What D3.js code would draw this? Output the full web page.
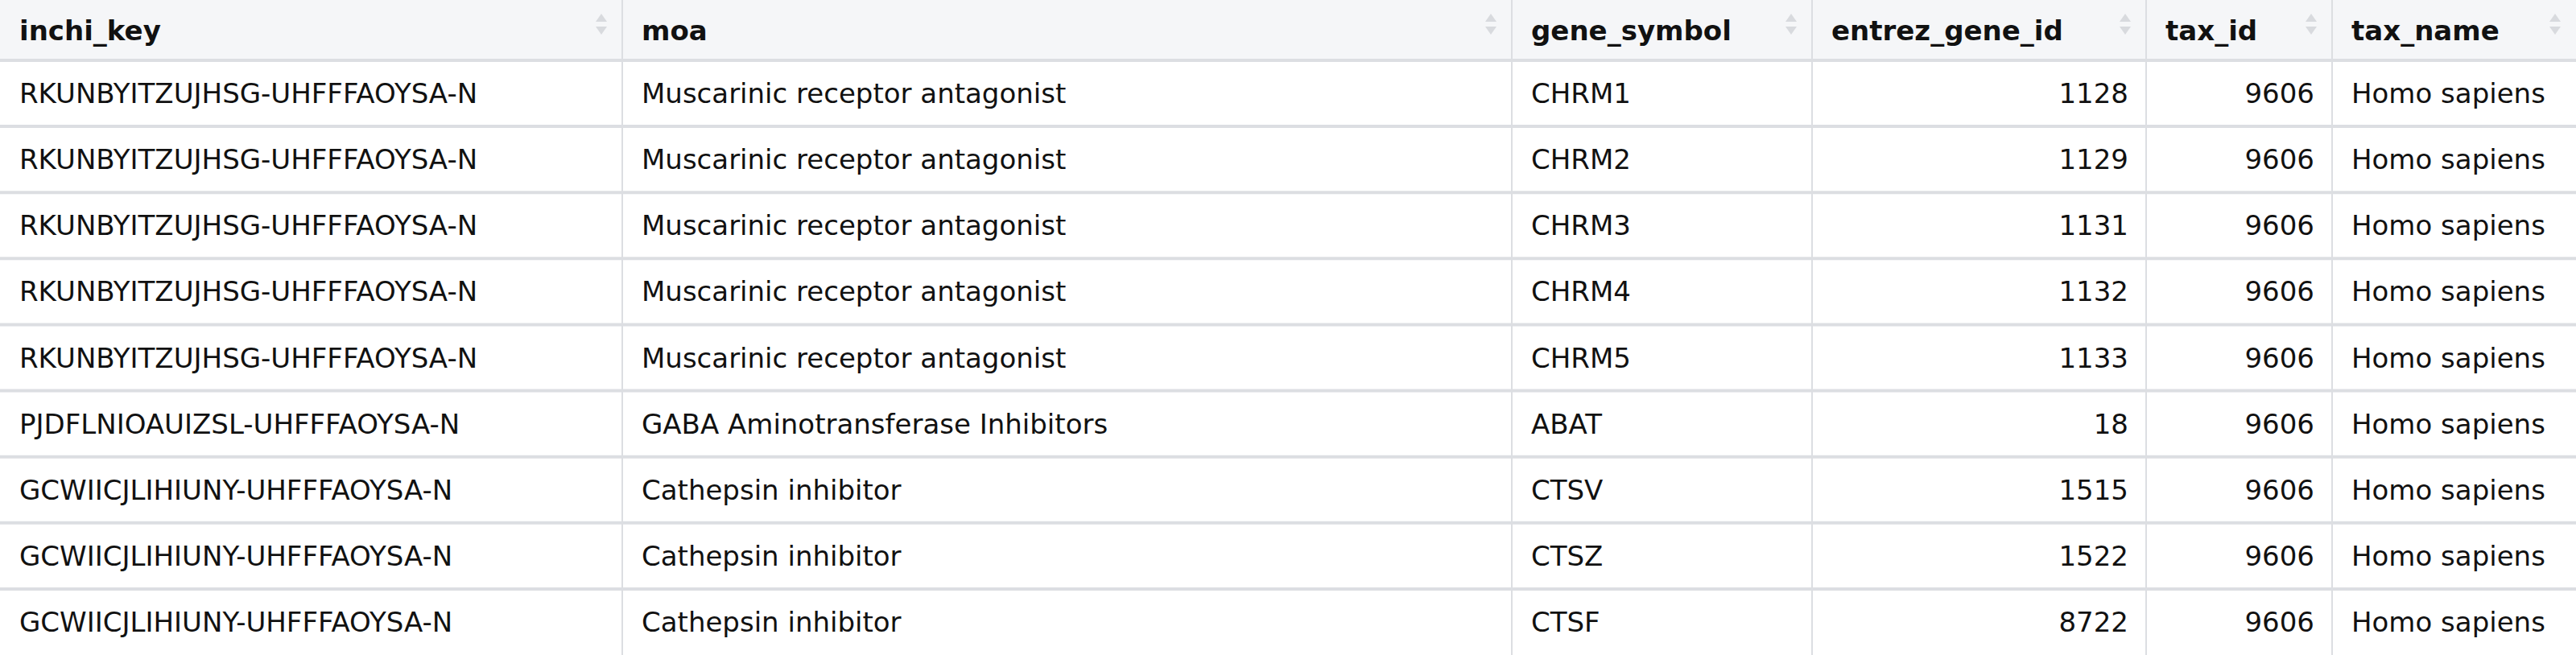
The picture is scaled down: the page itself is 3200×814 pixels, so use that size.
<!DOCTYPE html>
<html><head><meta charset="utf-8">
<script src="https://cdn.jsdelivr.net/npm/d3@7"></script>
<style>body{margin:0;background:#fff}</style>
</head><body>
<script>
var columns = ['inchi_key', 'moa', 'gene_symbol', 'entrez_gene_id', 'tax_id', 'tax_name'];
var inchiKeys = ['RKUNBYITZUJHSG-UHFFFAOYSA-N', 'RKUNBYITZUJHSG-UHFFFAOYSA-N', 'RKUNBYITZUJHSG-UHFFFAOYSA-N',
  'RKUNBYITZUJHSG-UHFFFAOYSA-N', 'RKUNBYITZUJHSG-UHFFFAOYSA-N', 'PJDFLNIOAUIZSL-UHFFFAOYSA-N',
  'GCWIICJLIHIUNY-UHFFFAOYSA-N', 'GCWIICJLIHIUNY-UHFFFAOYSA-N', 'GCWIICJLIHIUNY-UHFFFAOYSA-N'];
var moas = ['Muscarinic receptor antagonist', 'Muscarinic receptor antagonist', 'Muscarinic receptor antagonist',
  'Muscarinic receptor antagonist', 'Muscarinic receptor antagonist', 'GABA Aminotransferase Inhibitors',
  'Cathepsin inhibitor', 'Cathepsin inhibitor', 'Cathepsin inhibitor'];
var geneSymbols = ['CHRM1', 'CHRM2', 'CHRM3', 'CHRM4', 'CHRM5', 'ABAT', 'CTSV', 'CTSZ', 'CTSF'];
var entrezIds = [1128, 1129, 1131, 1132, 1133, 18, 1515, 1522, 8722];
var taxIds = [9606, 9606, 9606, 9606, 9606, 9606, 9606, 9606, 9606];
var taxNames = ['Homo sapiens', 'Homo sapiens', 'Homo sapiens', 'Homo sapiens', 'Homo sapiens',
  'Homo sapiens', 'Homo sapiens', 'Homo sapiens', 'Homo sapiens'];

// layout
var W = 3200, H = 814, headH = 75;
var colEdges = [0, 773, 1878, 2251, 2666, 2897, 3200];
var numeric = [false, false, false, true, true, false];
var rows = inchiKeys.map(function (d, i) {
  return [d, moas[i], geneSymbols[i], entrezIds[i], taxIds[i], taxNames[i]];
});

var svg = d3.select('body').append('svg').attr('width', W).attr('height', H)
  .style('font-family', '"DejaVu Sans", sans-serif');

var y = d3.scaleBand().domain(d3.range(rows.length)).range([headH, H]);

svg.append('rect').attr('width', W).attr('height', headH).attr('fill', '#f5f6f8');

// horizontal lines
svg.selectAll('line.h').data(d3.range(rows.length)).enter().append('line')
  .attr('x1', 0).attr('x2', W)
  .attr('y1', function (i) { return y(i); }).attr('y2', function (i) { return y(i); })
  .attr('stroke', '#dcdee2').attr('stroke-width', 4);

// vertical lines
svg.selectAll('line.v').data(colEdges.slice(1, -1)).enter().append('line')
  .attr('x1', function (d) { return d; }).attr('x2', function (d) { return d; })
  .attr('y1', 0).attr('y2', H)
  .attr('stroke', '#dcdee2').attr('stroke-width', 2);

// header
columns.forEach(function (c, j) {
  svg.append('text').attr('x', colEdges[j] + 24).attr('y', headH / 2 + 12)
    .attr('font-size', 34).attr('font-weight', 'bold').attr('fill', '#111').text(c);
  var ax = colEdges[j + 1] - 26;
  svg.append('path').attr('d', 'M' + (ax - 7) + ',' + 27 + 'L' + ax + ',' + 17 + 'L' + (ax + 7) + ',' + 27 + 'Z')
    .attr('fill', '#d8dade');
  svg.append('path').attr('d', 'M' + (ax - 7) + ',' + 33 + 'L' + ax + ',' + 43 + 'L' + (ax + 7) + ',' + 33 + 'Z')
    .attr('fill', '#d8dade');
});

// cells
rows.forEach(function (r, i) {
  r.forEach(function (v, j) {
    svg.append('text')
      .attr('x', numeric[j] ? colEdges[j + 1] - 22 : colEdges[j] + 24)
      .attr('y', y(i) + y.bandwidth() / 2 + 12)
      .attr('text-anchor', numeric[j] ? 'end' : 'start')
      .attr('font-size', 34).attr('fill', '#111').text(v);
  });
});
</script>
</body></html>
